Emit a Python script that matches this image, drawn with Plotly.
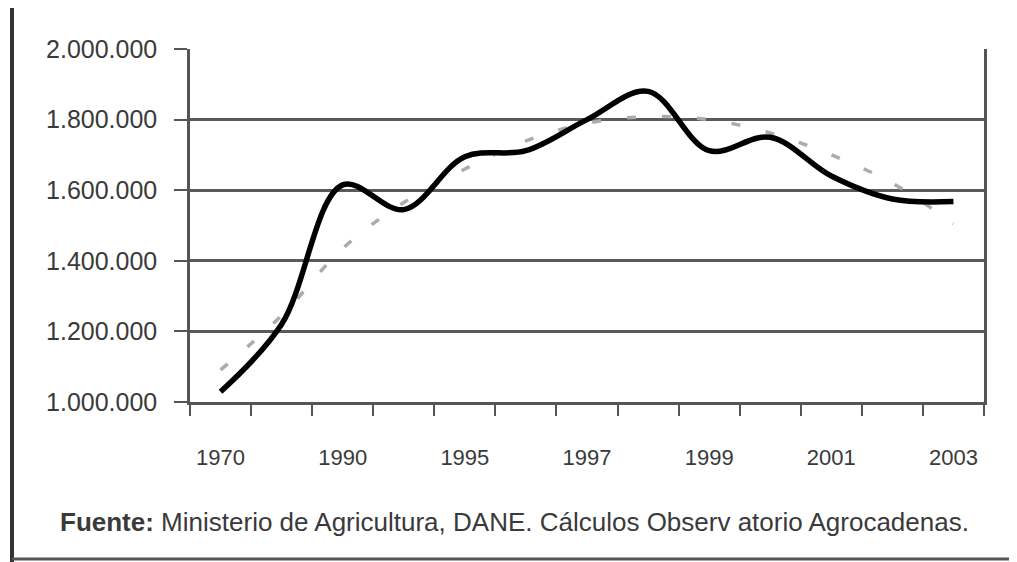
import plotly.graph_objects as go

categories = ["1970", "1980", "1990", "1993", "1995", "1996", "1997",
              "1998", "1999", "2000", "2001", "2002", "2003"]
shown_labels = ["1970", "", "1990", "", "1995", "", "1997",
                "", "1999", "", "2001", "", "2003"]
production = [1029000, 1220000, 1615000, 1545000, 1695000, 1712000, 1800000,
              1880000, 1712000, 1750000, 1640000, 1575000, 1568000]
trend = [1091000, 1245000, 1435000, 1565000, 1660000, 1740000, 1790000,
         1808000, 1800000, 1762000, 1700000, 1620000, 1505000]
y_ticks = [1000000, 1200000, 1400000, 1600000, 1800000, 2000000]
source_text = "<b>Fuente:</b> Ministerio de Agricultura, DANE. Cálculos Observ atorio Agrocadenas."

OFF = 8  # browser body margin
W, H = 1017 - OFF, 562 - OFF
L, R, T, B = 190 - OFF, 984 - OFF, 49 - OFF, 402 - OFF

fig = go.Figure()
fig.add_trace(go.Scatter(
    x=categories, y=trend, mode="lines",
    line=dict(color="#ababab", width=3.5, dash="9px,26px", shape="spline"),
    showlegend=False))
fig.add_trace(go.Scatter(
    x=categories, y=production, mode="lines",
    line=dict(color="#000000", width=5.5, shape="spline"),
    showlegend=False))

def px_x(p):
    return (p - OFF - L) / (R - L)

def px_y(p):
    return (B - (p - OFF)) / (B - T)

fig.update_layout(
    width=W, height=H,
    margin=dict(l=L, r=W - R, t=T, b=H - B),
    paper_bgcolor="white", plot_bgcolor="white",
    separators=",.",
    font=dict(family="Liberation Sans, Arial, sans-serif", color="#3a3a3a", size=22),
    xaxis=dict(
        type="category", categoryorder="array", categoryarray=categories,
        range=[-0.5, 12.5], tickmode="array", tickvals=categories, ticktext=shown_labels,
        tickson="boundaries", ticks="outside", ticklen=11, tickwidth=2, tickcolor="#555555",
        showline=True, linecolor="#555555", linewidth=2.5, mirror=False,
        showgrid=False, ticklabelstandoff=34, tickfont=dict(size=22)),
    yaxis=dict(
        range=[1000000, 2000000], tickmode="array", tickvals=y_ticks,
        tickformat=",d", ticks="outside", ticklen=13, tickwidth=2, tickcolor="#555555",
        showline=True, linecolor="#555555", linewidth=2.5, mirror=True,
        showgrid=True, gridcolor="#5a5a5a", gridwidth=2.5, zeroline=False,
        ticklabelstandoff=12, tickfont=dict(size=25)),
    annotations=[dict(
        text=source_text, xref="paper", yref="paper",
        x=px_x(58), y=px_y(522), xanchor="left", yanchor="middle",
        showarrow=False, font=dict(size=26, color="#3a3a3a"))],
    shapes=[
        dict(type="line", xref="paper", yref="paper",
             x0=px_x(12), x1=px_x(12), y0=px_y(0), y1=px_y(562),
             line=dict(color="#333333", width=4)),
        dict(type="line", xref="paper", yref="paper",
             x0=px_x(12), x1=px_x(1017), y0=px_y(559), y1=px_y(559),
             line=dict(color="#555555", width=3)),
    ],
)

fig.write_html("out.html")
